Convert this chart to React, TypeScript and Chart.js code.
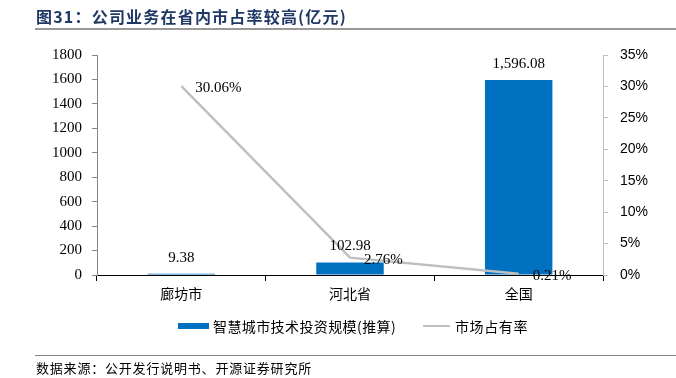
import React, { useEffect, useRef } from "react";
import { Chart, registerables } from "chart.js";

Chart.register(...registerables);

const categories = ["廊坊市", "河北省", "全国"];
const investValues = [9.38, 102.98, 1596.08];
const investLabels = ["9.38", "102.98", "1,596.08"];
const shareValues = [30.06, 2.76, 0.21];
const shareLabels = ["30.06%", "2.76%", "0.21%"];
const titleText = "图31：公司业务在省内市占率较高(亿元)";
const sourceText = "数据来源：公开发行说明书、开源证券研究所";
const barLegend = "智慧城市技术投资规模(推算)";
const lineLegend = "市场占有率";

const SERIF = '"Liberation Serif", "Times New Roman", serif';
const CJK = '"Noto Sans CJK SC", sans-serif';
const SANS = '"Liberation Sans", Arial, sans-serif';

const labelPlugin = {
  id: "valueLabels",
  afterDatasetsDraw(chart: any) {
    const ctx = chart.ctx;
    ctx.save();
    ctx.fillStyle = "#000";
    ctx.font = `15px ${SERIF}`;
    const barMeta = chart.getDatasetMeta(0);
    barMeta.data.forEach((el: any, i: number) => {
      ctx.textAlign = "center";
      ctx.textBaseline = "middle";
      ctx.fillText(investLabels[i], el.x, el.y - 16);
    });
    const lineMeta = chart.getDatasetMeta(1);
    lineMeta.data.forEach((el: any, i: number) => {
      ctx.textAlign = "left";
      ctx.textBaseline = "middle";
      ctx.fillText(shareLabels[i], el.x + 14, el.y + 2);
    });
    ctx.restore();
  },
};

export default function App() {
  const ref = useRef<HTMLCanvasElement>(null);
  useEffect(() => {
    document.body.style.margin = "0";
    const chart = new Chart(ref.current!, {
      type: "bar",
      data: {
        labels: categories,
        datasets: [
          {
            type: "bar",
            label: barLegend,
            data: investValues,
            backgroundColor: "#0070C0",
            barPercentage: 0.4,
            categoryPercentage: 1,
            yAxisID: "y",
            order: 2,
          },
          {
            type: "line",
            label: lineLegend,
            data: shareValues,
            borderColor: "#BFBFBF",
            borderWidth: 2.5,
            pointRadius: 0,
            tension: 0,
            yAxisID: "y1",
            order: 1,
          } as any,
        ],
      },
      options: {
        animation: false,
        responsive: false,
        layout: { padding: { top: 55, left: 0, right: 0, bottom: 0 } },
        plugins: { legend: { display: false }, tooltip: { enabled: false } },
        scales: {
          x: {
            offset: true,
            grid: { offset: true, drawOnChartArea: false, drawTicks: true, tickLength: 6, color: "#000" },
            border: { display: true, color: "#000", width: 1 },
            ticks: { color: "#000", font: { family: CJK, size: 14 }, padding: 4 },
            afterFit: (s: any) => { s.height = 103; },
          },
          y: {
            position: "left",
            min: 0,
            max: 1800,
            ticks: { stepSize: 200, color: "#000", font: { family: SERIF, size: 15 }, padding: 10, callback: (v: any) => String(v) },
            grid: { drawOnChartArea: false, drawTicks: true, tickLength: 5, color: "#868686" },
            border: { display: true, color: "#868686" },
            afterFit: (s: any) => { s.width = 97; },
          },
          y1: {
            position: "right",
            min: 0,
            max: 35,
            ticks: { stepSize: 5, color: "#000", font: { family: SANS, size: 14 }, padding: 12, callback: (v: any) => v + "%" },
            grid: { drawOnChartArea: false, drawTicks: true, tickLength: 5, color: "#BFBFBF" },
            border: { display: true, color: "#BFBFBF" },
            afterFit: (s: any) => { s.width = 73; },
          },
        },
      },
      plugins: [labelPlugin],
    });
    return () => chart.destroy();
  }, []);

  return (
    <div style={{ position: "relative", width: 676, height: 378, background: "#fff", overflow: "hidden" }}>
      <canvas ref={ref} width={676} height={378} style={{ position: "absolute", left: 0, top: 0 }} />
      <div style={{ position: "absolute", left: 36, top: 5, fontFamily: CJK, fontWeight: 700, fontSize: 16, letterSpacing: "1.2px", color: "#1F3864", whiteSpace: "nowrap", lineHeight: "22px" }}>
        {titleText}
      </div>
      <div style={{ position: "absolute", left: 35, top: 28, width: 641, height: 2, background: "#999" }} />
      <div style={{ position: "absolute", left: 178, top: 323, width: 31, height: 6, background: "#0070C0" }} />
      <div style={{ position: "absolute", left: 213, top: 316, fontFamily: CJK, fontSize: 14, letterSpacing: "0.4px", color: "#000", whiteSpace: "nowrap", lineHeight: "20px" }}>
        {barLegend}
      </div>
      <div style={{ position: "absolute", left: 423, top: 325, width: 27, height: 2, background: "#BFBFBF" }} />
      <div style={{ position: "absolute", left: 455, top: 316, fontFamily: CJK, fontSize: 14, letterSpacing: "0.6px", color: "#000", whiteSpace: "nowrap", lineHeight: "20px" }}>
        {lineLegend}
      </div>
      <div style={{ position: "absolute", left: 35, top: 355, width: 641, height: 1, background: "#888" }} />
      <div style={{ position: "absolute", left: 36, top: 359, fontFamily: CJK, fontSize: 13, letterSpacing: "0.8px", color: "#000", whiteSpace: "nowrap", lineHeight: "18px" }}>
        {sourceText}
      </div>
    </div>
  );
}
